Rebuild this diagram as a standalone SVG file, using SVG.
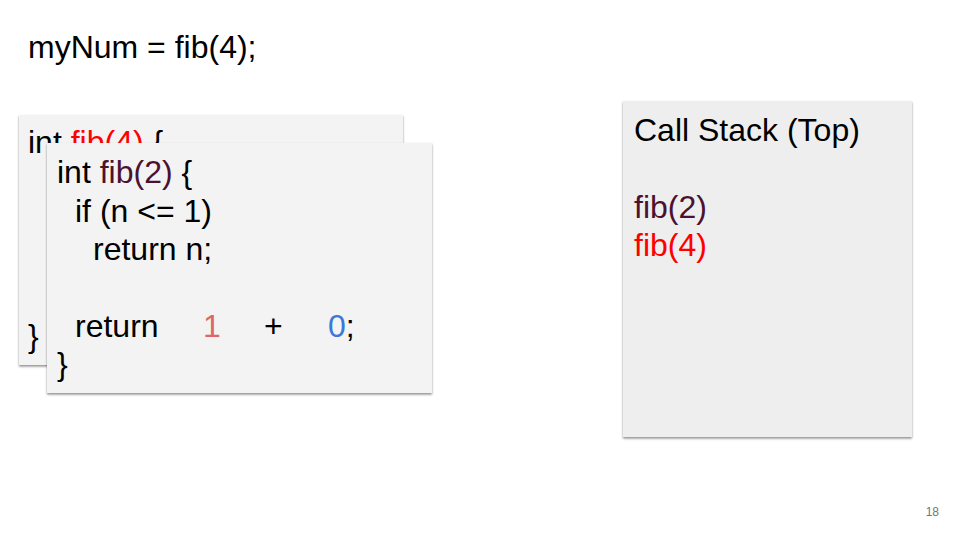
<svg xmlns="http://www.w3.org/2000/svg" width="960" height="540" viewBox="0 0 960 540">
<style>
text{font-family:"Liberation Sans",Arial,sans-serif;font-size:32px;fill:#000}
.box{fill:#f3f3f3;filter:url(#sh)}
.stack{fill:#eeeeee;filter:url(#sh)}
.f2{fill:#4c1130}
.f4{fill:#ff0000}
.one{fill:#e06666}
.zero{fill:#3c78d8}
</style>
<defs>
<filter id="sh" x="-5%" y="-5%" width="110%" height="110%">
<feDropShadow dx="0" dy="1.5" stdDeviation="1.2" flood-color="#000" flood-opacity="0.45"/>
</filter>
</defs>
<rect width="960" height="540" fill="#fff"/>
<text id="title" x="28" y="58">myNum = fib(4);</text>
<g id="frame-fib4">
<rect class="box" x="19" y="115" width="384" height="250"/>
<text x="28" y="153">int <tspan class="f4">fib(4)</tspan> {</text>
<text x="28" y="347">}</text>
</g>
<g id="frame-fib2">
<rect class="box" x="47" y="143" width="385" height="250"/>
<text x="57" y="183">int <tspan class="f2">fib(2)</tspan> {</text>
<text x="75" y="222">if (n &lt;= 1)</text>
<text x="93" y="260">return n;</text>
<text x="75" y="337">return</text>
<text class="one" x="203" y="337">1</text>
<text x="264" y="337">+</text>
<text x="328" y="337"><tspan class="zero">0</tspan>;</text>
<text x="57" y="375">}</text>
</g>
<g id="call-stack">
<rect class="stack" x="623" y="101" width="289" height="336"/>
<text x="634" y="141">Call Stack (Top)</text>
<text class="f2" x="634" y="218">fib(2)</text>
<text class="f4" x="634" y="256">fib(4)</text>
</g>
<g id="connectors"></g>
<text x="939" y="516" text-anchor="end" style="font-size:12px;fill:#757575">18</text>
</svg>
